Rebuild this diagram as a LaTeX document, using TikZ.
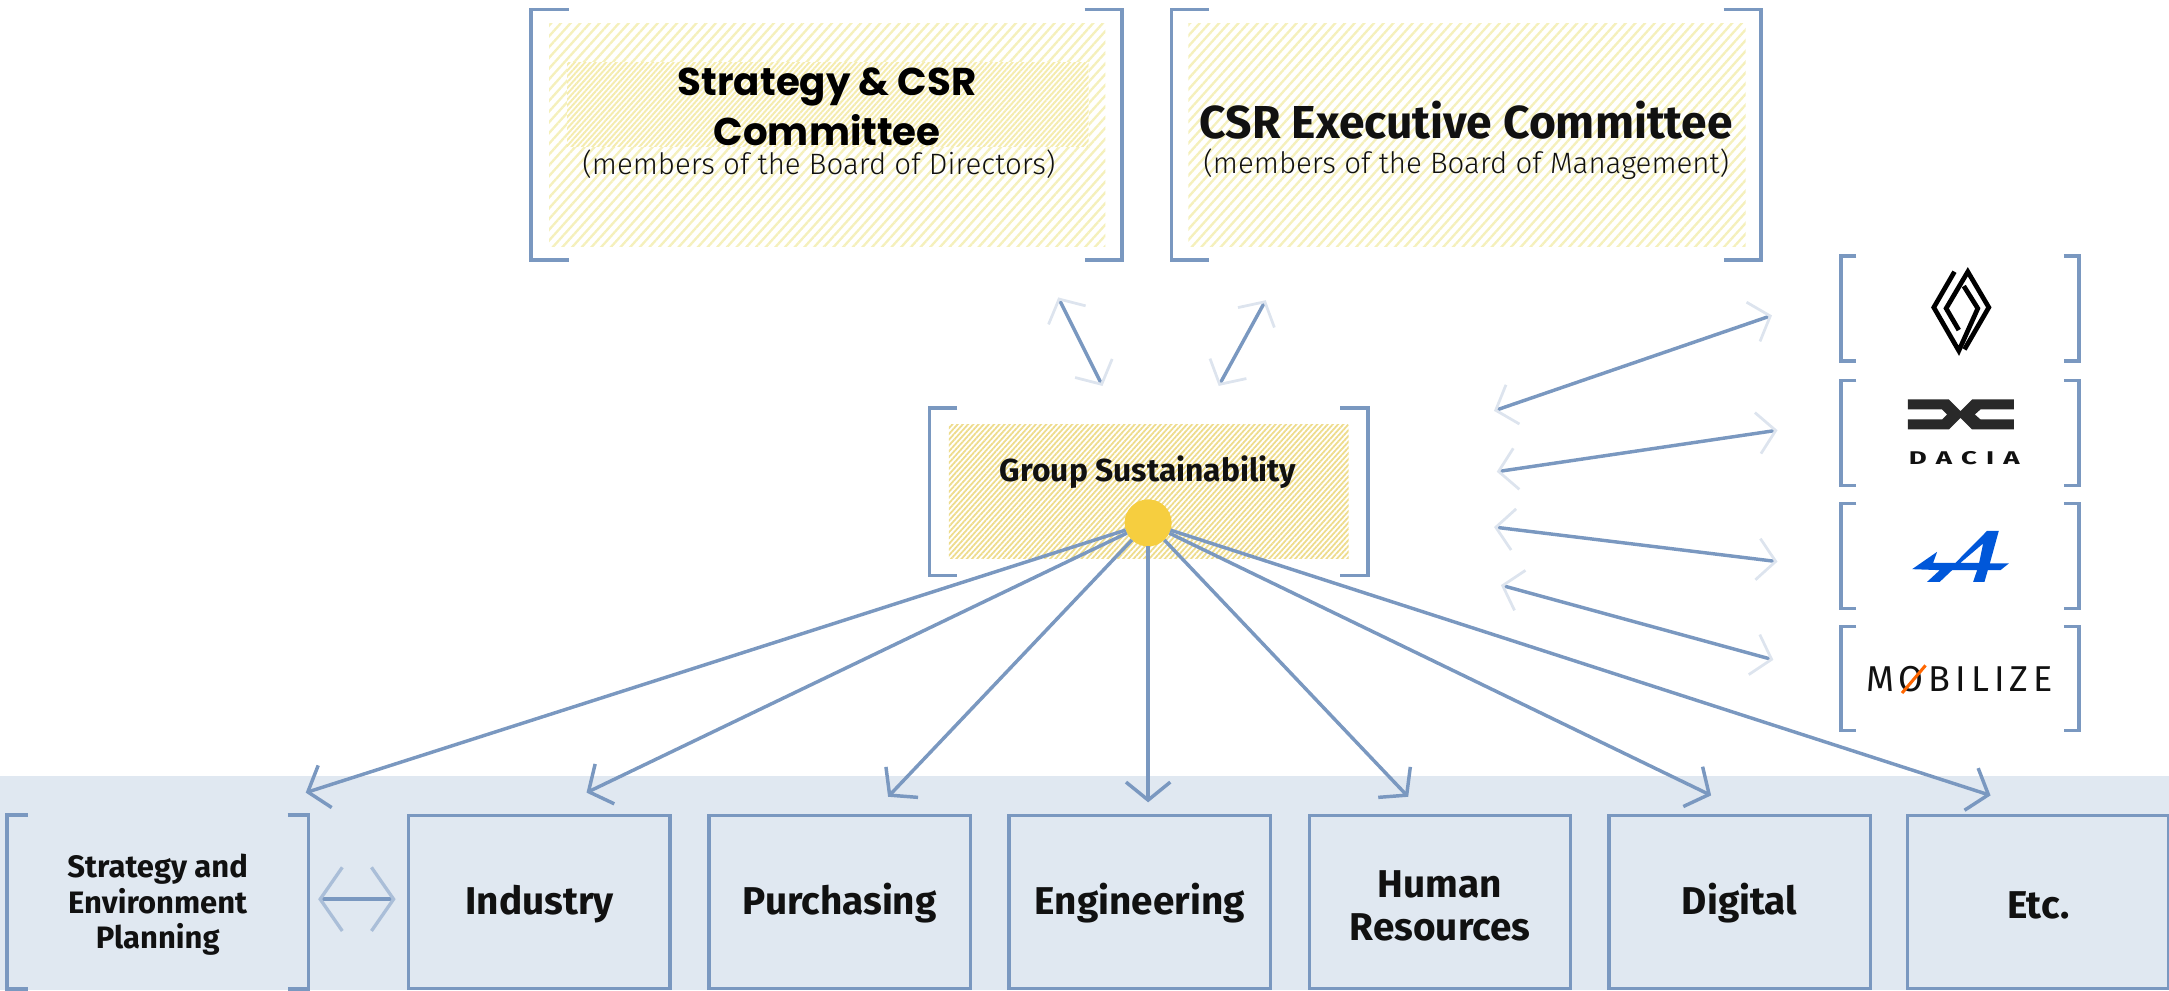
\documentclass[tikz,border=0pt]{standalone}
\usepackage{fontspec}
\setmainfont{Fira Sans}
\newfontfamily\barl{Fira Sans}
\newfontfamily\litef{Fira Sans Light}
\newfontfamily\popf{Poppins}
\newfontfamily\dacf[FakeStretch=1.5,LetterSpace=50]{Fira Sans}
\newfontfamily\mobf[LetterSpace=14]{Fira Sans}
\usetikzlibrary{arrows.meta,patterns.meta}
\definecolor{ln}{HTML}{7A98C0}
\definecolor{faint}{HTML}{DDE4EE}
\definecolor{mid}{HTML}{AABED8}
\definecolor{band}{HTML}{E0E8F1}
\definecolor{sun}{HTML}{F6CE3F}
\definecolor{ink}{HTML}{111111}
\definecolor{hatchA}{HTML}{F5F0BC}
\definecolor{hatchB}{HTML}{F5ECAE}
\definecolor{hatchC}{HTML}{EEDC8C}
\newcommand{\lowr}{\rule{0pt}{25pt}}
\tikzset{
  frame/.style={inner sep=0pt,outer sep=0pt,align=center,text=ink},
  brk/.style={draw=ln,line width=2.5pt},
  boxed/.style={frame,draw=ln,line width=2.5pt,minimum width=189pt,minimum height=125pt,font=\barl\fontsize{28}{31}\selectfont\bfseries},
  link/.style={draw=ln,line width=2.5pt,-{Straight Barb[length=13pt,width=32pt,line width=2.5pt]}},
  fade/.style={draw=ln,line width=2.5pt,{Straight Barb[length=13pt,width=30pt,line width=2pt,color=faint]}-{Straight Barb[length=13pt,width=30pt,line width=2pt,color=faint]}},
}
\newcommand{\brackets}[2]{%
  \draw[brk] ([xshift=#2pt]#1.north west) -- (#1.north west) -- (#1.south west) -- ([xshift=#2pt]#1.south west);
  \draw[brk] ([xshift=-#2pt]#1.north east) -- (#1.north east) -- (#1.south east) -- ([xshift=-#2pt]#1.south east);}
\begin{document}
\begin{tikzpicture}[x=1pt,y=-1pt]
\useasboundingbox (0,0) rectangle (1568,715.7);
\fill[band] (0,561) rectangle (1568,715.7);
% hatching
\fill[pattern={Lines[angle=48,distance=5.2pt,line width=1.7pt]},pattern color=hatchA] (397,17) rectangle (799,178);
\fill[white] (410,45) rectangle (787,106);
\fill[pattern={Lines[angle=48,distance=2.8pt,line width=1.4pt]},pattern color=hatchB] (410,45) rectangle (787,106);
\fill[pattern={Lines[angle=48,distance=5.2pt,line width=1.7pt]},pattern color=hatchA] (859,17) rectangle (1262,178);
\fill[pattern={Lines[angle=48,distance=2.8pt,line width=1.3pt]},pattern color=hatchC] (686,307) rectangle (975,404);
% committees
\node[frame,minimum width=427pt,minimum height=181pt] (c1) at (597.5,97.5) {};
\node[frame,minimum width=426pt,minimum height=181pt] (c2) at (1060,97.5) {};
\brackets{c1}{27}\brackets{c2}{27}
\node[frame,font=\popf\fontsize{28}{36}\selectfont\bfseries,text=black] (c1t) at (598,77) {Strategy \& CSR\\Committee};
\node[frame,font=\litef\fontsize{21.3}{25}\selectfont,text=ink] (c1s) at (592,119) {(members of the Board of Directors)};
\node[frame,font=\barl\fontsize{33.4}{36}\selectfont\bfseries] (c2t) at (1060,87) {CSR Executive Committee};
\node[frame,font=\litef\fontsize{21.3}{25}\selectfont,text=ink] (c2s) at (1060,119) {(members of the Board of Management)};
% group
\node[frame,minimum width=317pt,minimum height=121pt] (g) at (830.5,355.5) {};
\brackets{g}{20}
\node[frame,font=\barl\fontsize{23}{27}\selectfont\bfseries] (gt) at (830,341) {Group Sustainability};
\node[circle,fill=sun,minimum size=34pt,inner sep=0pt,outer sep=0pt] (hub) at (830,378) {};
% bottom row
\node[frame,minimum width=218pt,minimum height=126pt] (sp) at (114,652) {};
\brackets{sp}{15}
\node[frame,font=\barl\fontsize{22.4}{25.5}\selectfont\bfseries] (spt) at (114,654) {Strategy and\\Environment\\Planning};
\node[boxed] (ind) at (390,652) {\lowr Industry};
\node[boxed] (pur) at (607,652) {\lowr Purchasing};
\node[boxed] (eng) at (824,652) {\lowr Engineering};
\node[boxed] (hr) at (1041,652) {\lowr Human\\Resources};
\node[boxed] (dig) at (1257.5,652) {\lowr Digital};
\node[boxed] (etc) at (1473.5,652) {\lowr Etc.};
% arrow ends
\coordinate (aS) at (221,573);
\coordinate (aI) at (424,573);
\coordinate (aP) at (642,576);
\coordinate (aE) at (830,580);
\coordinate (aH) at (1018,576);
\coordinate (aD) at (1237,575);
\coordinate (aT) at (1439,575);
\foreach \t in {aS,aI,aP,aE,aH,aD,aT} \draw[link] (hub) -- (\t);
% committee arrows
\coordinate (u1) at (765,215); \coordinate (v1) at (797,279);
\coordinate (u2) at (915,217); \coordinate (v2) at (881,279);
\draw[fade] (u1) -- (v1);
\draw[fade] (u2) -- (v2);
% brand nodes
\node[frame,minimum width=172pt,minimum height=76pt] (ren) at (1417,223) {};
\node[frame,minimum width=172pt,minimum height=76pt] (dac) at (1417,313) {};
\node[frame,minimum width=172pt,minimum height=76pt] (alp) at (1417,402) {};
\node[frame,minimum width=172pt,minimum height=75pt] (mob) at (1417,490.5) {};
\brackets{ren}{11}\brackets{dac}{11}\brackets{alp}{11}\brackets{mob}{11}
% brand arrows
\coordinate (l1) at (1080,297); \coordinate (r1) at (1281,228);
\coordinate (l2) at (1082,341); \coordinate (r2) at (1285,311);
\coordinate (l3) at (1080,381); \coordinate (r3) at (1285,406);
\coordinate (l4) at (1085,423); \coordinate (r4) at (1282,477);
\draw[fade] (l1) -- (r1);
\draw[fade] (l2) -- (r2);
\draw[fade] (l3) -- (r3);
\draw[fade] (l4) -- (r4);
% exchange arrow
\coordinate (x1) at (230,650); \coordinate (x2) at (286,650);
\draw[draw=ln,line width=2.5pt,{Straight Barb[length=16pt,width=46pt,line width=2.4pt,color=mid]}-{Straight Barb[length=16pt,width=46pt,line width=2.4pt,color=mid]}] (x1) -- (x2);
% Renault emblem
\begin{scope}[shift={(1359.4,188)},x=0.241pt,y=-0.241pt,black,line width=3.4pt,miter limit=8]
\draw (222,35) -- (160,142) -- (235,272) -- (292,145) -- (250,78);
\draw (252,268) -- (325,142) -- (262,35) -- (197,145) -- (235,210);
\end{scope}
% Dacia emblem
\begin{scope}[shift={(1359.4,278.4)},x=0.241pt,y=-0.241pt]
\fill[ink!90,even odd rule] (82,43) -- (205,43) -- (240,78) -- (275,43) -- (400,43) -- (400,73) -- (300,73) -- (283,88) -- (300,103) -- (400,103) -- (400,133) -- (275,133) -- (240,98) -- (205,133) -- (82,133) -- (82,103) -- (185,103) -- (200,88) -- (185,73) -- (82,73) -- cycle;
\end{scope}
\node[frame,font=\dacf\fontsize{13.3}{15}\selectfont\bfseries] (dt) at (1420,331.5) {DACIA};
% Alpine emblem
\begin{scope}[shift={(1359.4,372.4)},x=0.241pt,y=-0.241pt]
\fill[fill=blue!60!cyan!85!black,even odd rule] (320,47) -- (355,47) -- (328,145) -- (385,145) -- (360,165) -- (322,165) -- (312,200) -- (278,200) -- (290,165) -- (215,165) -- (178,200) -- (140,200) -- (178,165) -- (95,162) -- (170,110) -- (158,143) -- (225,143) -- cycle (240,143) -- (308,85) -- (296,143) -- cycle;
\end{scope}
% Mobilize
\node[frame,font=\mobf\fontsize{26}{29}\selectfont] (mt) at (1416.5,491) {MOBILIZE};
\draw[orange!80!red,line width=2.2pt] (1375,501) -- (1392,481);
\end{tikzpicture}
\end{document}
